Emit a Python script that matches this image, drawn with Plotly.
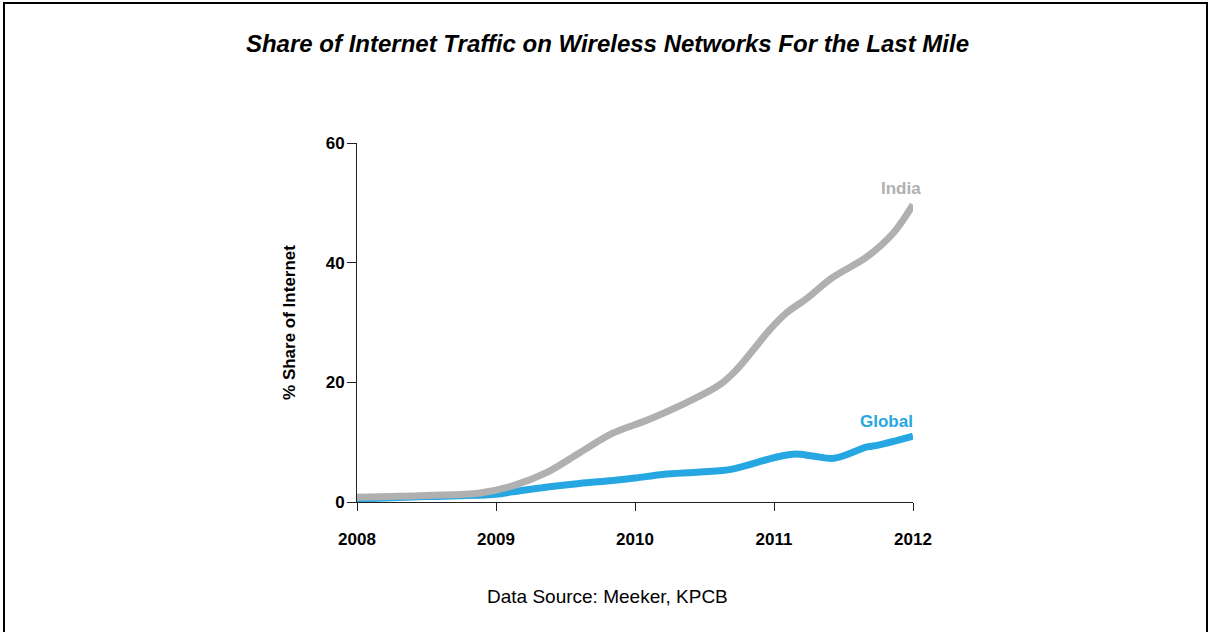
import plotly.graph_objects as go

india_x = [2008, 2008.5, 2008.885, 2009.12, 2009.37, 2009.6, 2009.84, 2010.09, 2010.37, 2010.61, 2010.73,
           2010.85, 2010.97, 2011.09, 2011.24, 2011.42, 2011.67, 2011.86, 2012]
india_y = [0.8, 1.1, 1.5, 2.7, 5.0, 8.2, 11.5, 13.7, 16.6, 19.6, 22.1,
           25.4, 28.8, 31.6, 34.1, 37.5, 41.0, 45.0, 49.7]

global_x = [2008, 2008.5, 2009, 2009.12, 2009.37, 2009.6, 2009.84, 2010, 2010.2, 2010.47, 2010.7,
            2011, 2011.14, 2011.28, 2011.43, 2011.67, 2011.75, 2012]
global_y = [0.5, 0.9, 1.3, 1.7, 2.5, 3.1, 3.6, 4.0, 4.6, 5.0, 5.5,
            7.4, 8.0, 7.7, 7.3, 9.2, 9.5, 11.0]

x_ticks = [2008, 2009, 2010, 2011, 2012]
y_ticks = [0, 20, 40, 60]

GRAY = "#b0b0b0"
BLUE = "#27a7e1"
FONT = "Liberation Sans, Arial, sans-serif"

W, H = 1209, 632
L, R, T, B = 357, 913, 143, 502
PW, PH = R - L, B - T

fig = go.Figure()
fig.add_trace(go.Scatter(x=global_x, y=global_y, mode="lines",
                         line=dict(color=BLUE, width=7, shape="spline", smoothing=1.0),
                         hoverinfo="skip", showlegend=False))
fig.add_trace(go.Scatter(x=india_x, y=india_y, mode="lines",
                         line=dict(color=GRAY, width=7, shape="spline", smoothing=1.0),
                         hoverinfo="skip", showlegend=False))

fig.update_layout(
    width=W, height=H,
    margin=dict(l=L, r=W - R, t=T, b=H - B),
    paper_bgcolor="white", plot_bgcolor="white",
    font=dict(family=FONT, color="black"),
    title=dict(text="<b><i>Share of Internet Traffic on Wireless Networks For the Last Mile</i></b>",
               x=607.5 / W, xref="container", xanchor="center", y=1 - 44 / H, yref="container",
               yanchor="middle",
               font=dict(size=24, family=FONT, color="black")),
    xaxis=dict(range=[2008, 2012], tickvals=x_ticks, ticktext=["<b>%d</b>" % v for v in x_ticks],
               showgrid=False, zeroline=False, showline=True, linecolor="#222", linewidth=1,
               ticks="outside", ticklen=8, tickcolor="#222", tickfont=dict(size=17),
               ticklabelstandoff=14),
    yaxis=dict(range=[0, 60], tickvals=y_ticks, ticktext=["<b>%d</b>" % v for v in y_ticks],
               showgrid=False, zeroline=False, showline=True, linecolor="#222", linewidth=1,
               ticks="outside", ticklen=9, tickcolor="#222", tickfont=dict(size=17),
               ticklabelstandoff=-1,
               title=dict(text="<b>% Share of Internet</b>", font=dict(size=17), standoff=25)),
    shapes=[dict(type="rect", xref="paper", yref="paper",
                 x0=(4 - L) / PW, x1=(1207 - L) / PW, y0=(B - 700) / PH, y1=(B - 3) / PH,
                 line=dict(color="black", width=2), fillcolor="rgba(0,0,0,0)")],
    annotations=[
        dict(x=2012, y=50, xref="x", yref="y", text="<b>India</b>", showarrow=False,
             xanchor="right", yanchor="bottom", yshift=3, xshift=10,
             font=dict(size=17, color=GRAY)),
        dict(x=2012, y=11, xref="x", yref="y", text="<b>Global</b>", showarrow=False,
             xanchor="right", yanchor="bottom", yshift=3, xshift=2,
             font=dict(size=17, color=BLUE)),
        dict(x=(607 - L) / PW, y=-(596 - B) / PH, xref="paper", yref="paper",
             text="Data Source: Meeker, KPCB",
             showarrow=False, xanchor="center", yanchor="middle",
             font=dict(size=19, color="black")),
    ],
)

fig.write_html("out.html", config={"displayModeBar": False},
               post_script="document.body.style.margin='0';")
